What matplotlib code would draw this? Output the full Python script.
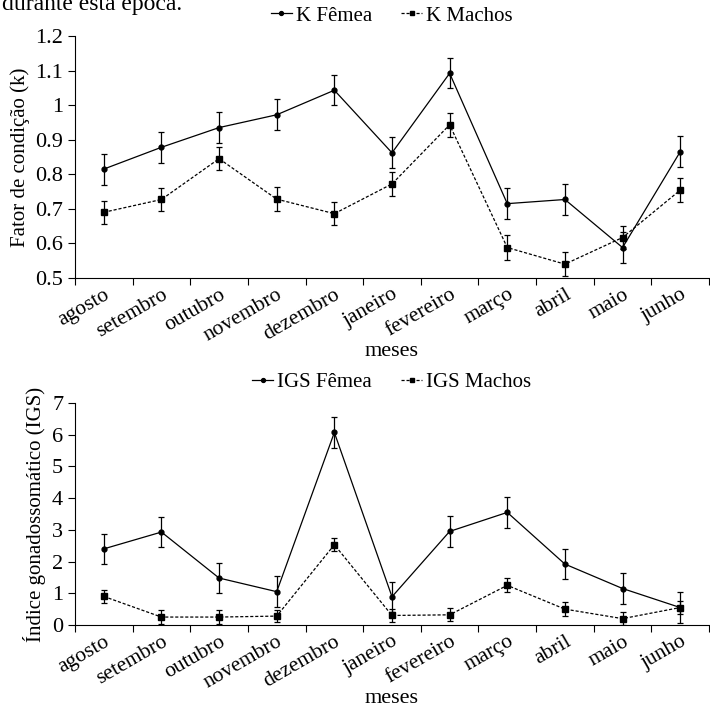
import numpy as np
import matplotlib.pyplot as plt

plt.rcParams['font.family'] = 'Liberation Serif'

meses = ['agosto', 'setembro', 'outubro', 'novembro', 'dezembro', 'janeiro',
         'fevereiro', 'março', 'abril', 'maio', 'junho']

# Fator de condicao
k_femea = [0.815, 0.878, 0.935, 0.972, 1.043, 0.862, 1.092, 0.715, 0.727, 0.588, 0.865]
k_femea_err = [0.045, 0.045, 0.045, 0.045, 0.043, 0.045, 0.043, 0.045, 0.045, 0.045, 0.045]
k_machos = [0.690, 0.727, 0.845, 0.728, 0.686, 0.772, 0.943, 0.588, 0.540, 0.617, 0.754]
k_machos_err = [0.034, 0.034, 0.034, 0.034, 0.034, 0.034, 0.034, 0.035, 0.034, 0.034, 0.034]

# Indice gonadossomatico
igs_femea = [2.40, 2.93, 1.48, 1.05, 6.07, 0.89, 2.95, 3.55, 1.92, 1.15, 0.55]
igs_femea_err = [0.48, 0.48, 0.48, 0.48, 0.48, 0.48, 0.48, 0.48, 0.48, 0.48, 0.48]
igs_machos = [0.90, 0.25, 0.25, 0.28, 2.53, 0.30, 0.32, 1.25, 0.50, 0.20, 0.55]
igs_machos_err = [0.21, 0.21, 0.21, 0.20, 0.21, 0.21, 0.21, 0.22, 0.21, 0.21, 0.21]

x = np.arange(len(meses))

fig = plt.figure(figsize=(7.1, 7.05), dpi=100)
fig.text(0.003, 0.993, 'durante esta época.', fontsize=17, va='center', ha='left')

ax1 = fig.add_axes([0.1056, 0.6057, 0.893, 0.3433])
ax2 = fig.add_axes([0.1056, 0.1135, 0.893, 0.3149])

dash = (0, (2.5, 1.5))


def draw(ax, fem, fem_err, mac, mac_err, lab_f, lab_m):
    ax.errorbar(x, fem, yerr=fem_err, fmt='none', ecolor='black',
                capsize=2.5, elinewidth=0.9, capthick=0.9)
    ax.errorbar(x, mac, yerr=mac_err, fmt='none', ecolor='black',
                capsize=2.5, elinewidth=0.9, capthick=0.9)
    ax.plot(x, fem, color='black', lw=0.9, marker='o', ms=3.5, label=lab_f)
    ax.plot(x, mac, color='black', lw=0.9, ls=dash, marker='s', ms=4, label=lab_m)
    ax.set_xlim(-0.5, len(meses) - 0.5)
    ax.set_xticks(x)
    ax.set_xticklabels(meses, rotation=30, ha='right', rotation_mode='anchor', fontsize=15.5)
    ax.set_xticks(np.arange(-0.5, len(meses), 1), minor=True)
    ax.tick_params(axis='x', which='major', length=0, pad=5)
    ax.tick_params(axis='x', which='minor', length=5, direction='out', width=0.8)
    ax.tick_params(axis='y', labelsize=16, length=5, width=0.8)
    ax.spines['top'].set_visible(False)
    ax.spines['right'].set_visible(False)
    ax.set_xlabel('meses', fontsize=16, labelpad=-2)
    ax.legend(loc='lower center', bbox_to_anchor=(0.5, 0.965), ncol=2, frameon=False,
              fontsize=15, handlelength=1.0, handletextpad=0.2, columnspacing=1.4,
              markerscale=0.8)


draw(ax1, k_femea, k_femea_err, k_machos, k_machos_err, 'K Fêmea', 'K Machos')
ax1.set_ylim(0.5, 1.2)
ax1.set_yticks([0.5, 0.6, 0.7, 0.8, 0.9, 1.0, 1.1, 1.2])
ax1.set_yticklabels(['0.5', '0.6', '0.7', '0.8', '0.9', '1', '1.1', '1.2'])
ax1.set_ylabel('Fator de condição (k)', fontsize=15)

draw(ax2, igs_femea, igs_femea_err, igs_machos, igs_machos_err, 'IGS Fêmea', 'IGS Machos')
ax2.set_ylim(0, 7)
ax2.set_yticks(range(0, 8))
ax2.set_ylabel('Índice gonadossomático (IGS)', fontsize=15)

fig.savefig('out.png', dpi=100)
